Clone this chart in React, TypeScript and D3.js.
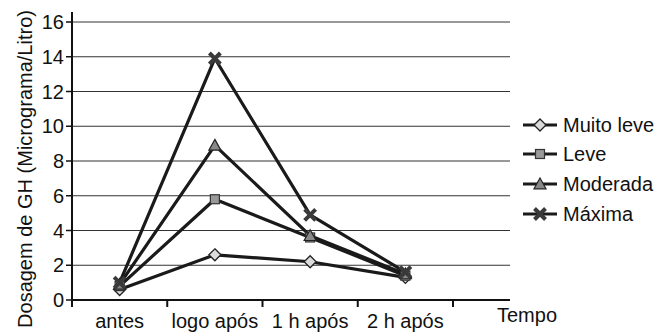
import React from "react";
import * as d3 from "d3";

const categories = ["antes", "logo após", "1 h após", "2 h após"];
const seriesNames = ["Muito leve", "Leve", "Moderada", "Máxima"];
const muitoLeve = [0.6, 2.6, 2.2, 1.3];
const leve = [0.8, 5.8, 3.6, 1.4];
const moderada = [0.9, 8.9, 3.7, 1.5];
const maxima = [1.0, 13.9, 4.9, 1.6];
const yTicks = [0, 2, 4, 6, 8, 10, 12, 14, 16];

const FONT = "'Liberation Sans', Arial, sans-serif";

function Marker({ type, x, y }: { type: string; x: number; y: number }) {
  if (type === "diamond") {
    const s = 6;
    return (
      <path
        d={`M${x},${y - s}L${x + s},${y}L${x},${y + s}L${x - s},${y}Z`}
        fill="#dcdcdc"
        stroke="#222"
        strokeWidth={1.3}
      />
    );
  }
  if (type === "square") {
    const s = 4.5;
    return <rect x={x - s} y={y - s} width={2 * s} height={2 * s} fill="#999" stroke="#333" strokeWidth={1.2} />;
  }
  if (type === "triangle") {
    const s = 6;
    return (
      <path
        d={`M${x},${y - s}L${x + s},${y + s * 0.8}L${x - s},${y + s * 0.8}Z`}
        fill="#888"
        stroke="#222"
        strokeWidth={1.2}
      />
    );
  }
  const s = 5.5;
  return (
    <path
      d={`M${x - s},${y - s}L${x + s},${y + s}M${x + s},${y - s}L${x - s},${y + s}`}
      stroke="#3a3a3a"
      strokeWidth={4}
      fill="none"
    />
  );
}

export default function App() {
  const W = 666;
  const H = 336;
  const x = d3.scaleBand<string>().domain(categories).range([72, 453]);
  const y = d3.scaleLinear().domain([0, 16]).range([300, 22]);
  const series = [
    { name: seriesNames[0], values: muitoLeve, marker: "diamond" },
    { name: seriesNames[1], values: leve, marker: "square" },
    { name: seriesNames[2], values: moderada, marker: "triangle" },
    { name: seriesNames[3], values: maxima, marker: "x" },
  ];
  const line = d3
    .line<number>()
    .x((_, i) => (x(categories[i]) as number) + x.bandwidth() / 2)
    .y((d) => y(d));
  const legendY = [125, 154, 184, 214];
  const tickXs = [...categories.map((c) => x(c) as number), 453];

  return (
    <svg width={W} height={H} style={{ position: "absolute", left: 0, top: 0, background: "#fff" }}>
      {yTicks.filter((t) => t > 0).map((t) => (
        <line key={t} x1={72} x2={510} y1={y(t)} y2={y(t)} stroke="#333" strokeWidth={1} />
      ))}
      {yTicks.map((t) => (
        <g key={"yt" + t}>
          <line x1={66} x2={72} y1={y(t)} y2={y(t)} stroke="#111" strokeWidth={1.5} />
          <text x={64} y={y(t)} dy="0.35em" textAnchor="end" fontFamily={FONT} fontSize={20} fill="#111">
            {t}
          </text>
        </g>
      ))}
      <line x1={72} x2={72} y1={12} y2={301} stroke="#111" strokeWidth={2} />
      <line x1={71} x2={510} y1={300} y2={300} stroke="#111" strokeWidth={2} />
      {tickXs.map((tx, i) => (
        <line key={"xt" + i} x1={tx} x2={tx} y1={300} y2={307} stroke="#111" strokeWidth={2} />
      ))}
      {categories.map((c) => (
        <text
          key={c}
          x={(x(c) as number) + x.bandwidth() / 2}
          y={328}
          textAnchor="middle"
          fontFamily={FONT}
          fontSize={20}
          fill="#111"
        >
          {c}
        </text>
      ))}
      <text x={497} y={322} fontFamily={FONT} fontSize={20} fill="#111">
        Tempo
      </text>
      <text
        transform="translate(32,169) rotate(-90)"
        textAnchor="middle"
        fontFamily={FONT}
        fontSize={20}
        fill="#111"
      >
        Dosagem de GH (Micrograma/Litro)
      </text>
      {series.map((s) => (
        <path key={s.name} d={line(s.values) as string} fill="none" stroke="#1a1a1a" strokeWidth={3.2} strokeLinejoin="round" />
      ))}
      {series.map((s) =>
        s.values.map((v, i) => (
          <Marker key={s.name + i} type={s.marker} x={(x(categories[i]) as number) + x.bandwidth() / 2} y={y(v)} />
        ))
      )}
      {series.map((s, i) => (
        <g key={"lg" + s.name}>
          <line x1={523} x2={557} y1={legendY[i]} y2={legendY[i]} stroke="#1a1a1a" strokeWidth={3} />
          <Marker type={s.marker} x={540} y={legendY[i]} />
          <text x={563} y={legendY[i]} dy="0.35em" fontFamily={FONT} fontSize={20} fill="#111">
            {s.name}
          </text>
        </g>
      ))}
    </svg>
  );
}
